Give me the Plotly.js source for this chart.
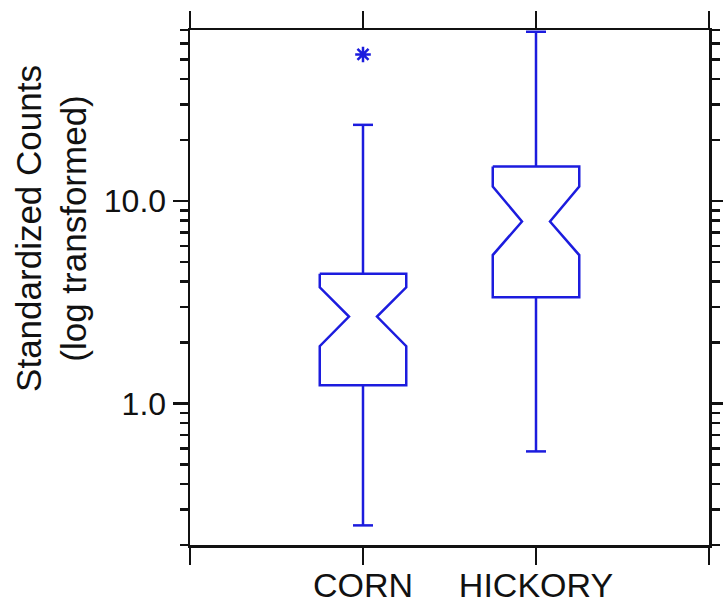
<!DOCTYPE html>
<html><head><meta charset="utf-8">
<script src="https://cdn.plot.ly/plotly-3.0.1.min.js"></script>
<style>html,body{margin:0;padding:0;background:#fff}#chart{width:723px;height:606px}</style>
</head><body><div id="chart"></div>
<script>
// Data (notched box plot statistics)
const categories = ['CORN', 'HICKORY'];
const lowerWhisker = [0.25, 0.58];
const q1Values = [1.23, 3.35];
const notchLow = [1.92, 5.41];
const medians = [2.69, 7.93];
const notchHigh = [3.75, 11.8];
const q3Values = [4.38, 14.8];
const upperWhisker = [23.8, 68.6];
const outlierCategory = ['CORN'];
const outlierValues = [53];
const yTickVals = [1, 10];
const yTickText = ['1.0', '10.0'];
const yTitleLines = ['Standardized Counts', '(log transformed)'];

// Styles (widths in x-axis category units)
const boxHalf = 0.25, notchHalf = 0.081, capHalf = 0.058;
const blue = 'rgb(28,28,222)';
const family = 'Liberation Sans, Arial, sans-serif';
const tickFont = {family: family, size: 32, color: '#111'};

const traces = categories.map((c, i) => {
  const xc = i;
  const xs = [], ys = [];
  const add = (x, y) => { xs.push(x); ys.push(y); };
  const gap = () => { xs.push(null); ys.push(null); };
  // notched box outline
  add(xc - boxHalf, q3Values[i]); add(xc + boxHalf, q3Values[i]);
  add(xc + boxHalf, notchHigh[i]); add(xc + notchHalf, medians[i]);
  add(xc + boxHalf, notchLow[i]); add(xc + boxHalf, q1Values[i]);
  add(xc - boxHalf, q1Values[i]); add(xc - boxHalf, notchLow[i]);
  add(xc - notchHalf, medians[i]); add(xc - boxHalf, notchHigh[i]);
  add(xc - boxHalf, q3Values[i]); gap();
  // whiskers and caps
  add(xc, q3Values[i]); add(xc, upperWhisker[i]); gap();
  add(xc - capHalf, upperWhisker[i]); add(xc + capHalf, upperWhisker[i]); gap();
  add(xc, q1Values[i]); add(xc, lowerWhisker[i]); gap();
  add(xc - capHalf, lowerWhisker[i]); add(xc + capHalf, lowerWhisker[i]);
  return {
    type: 'scatter', mode: 'lines', name: c, x: xs, y: ys,
    line: {color: blue, width: 2.5}, connectgaps: false, hoverinfo: 'name+y'
  };
});
traces.push({
  type: 'scatter', mode: 'markers', name: 'outlier',
  x: outlierCategory.map(c => categories.indexOf(c)), y: outlierValues,
  marker: {symbol: 'asterisk-open', size: 13, color: blue, line: {color: blue, width: 2.5}},
  showlegend: false
});

const minorVals = [];
[0.1, 1, 10].forEach(d => { for (let k = 2; k <= 9; k++) minorVals.push(+(k * d).toFixed(2)); });

const layout = {
  width: 723, height: 606,
  margin: {l: 190, r: 14, t: 30, b: 61},
  paper_bgcolor: '#fff', plot_bgcolor: '#fff',
  showlegend: false, font: tickFont,
  xaxis: {
    range: [-1, 2], tickvals: [-1, 0, 1, 2], ticktext: ['', ...categories, ''],
    ticks: 'outside', ticklen: 17, tickwidth: 2.5, tickcolor: '#111',
    ticklabelstandoff: -8,
    showline: true, linewidth: 2.5, linecolor: '#111', mirror: 'allticks',
    showgrid: false, zeroline: false, tickfont: {family: family, size: 34, color: '#111'}, fixedrange: true
  },
  yaxis: {
    type: 'log', range: [Math.log10(0.2), Math.log10(70)],
    tickvals: yTickVals, ticktext: yTickText,
    ticks: 'outside', ticklen: 15, tickwidth: 2.5, tickcolor: '#111',
    minor: {tickvals: minorVals, ticks: 'outside', ticklen: 8, tickwidth: 2.5, tickcolor: '#111', showgrid: false},
    showline: true, linewidth: 2.5, linecolor: '#111', mirror: 'allticks',
    showgrid: false, zeroline: false, tickfont: tickFont,
    automargin: false, fixedrange: true
  },
  annotations: [{
    text: yTitleLines.join('<br>'), textangle: -90, showarrow: false,
    xref: 'paper', yref: 'paper', x: -0.268, y: 0.6155, xanchor: 'center', yanchor: 'middle',
    align: 'center', font: {family: family, size: 35, color: '#111'}
  }]
};
Plotly.newPlot('chart', traces, layout, {displayModeBar: false, staticPlot: true});
</script></body></html>
